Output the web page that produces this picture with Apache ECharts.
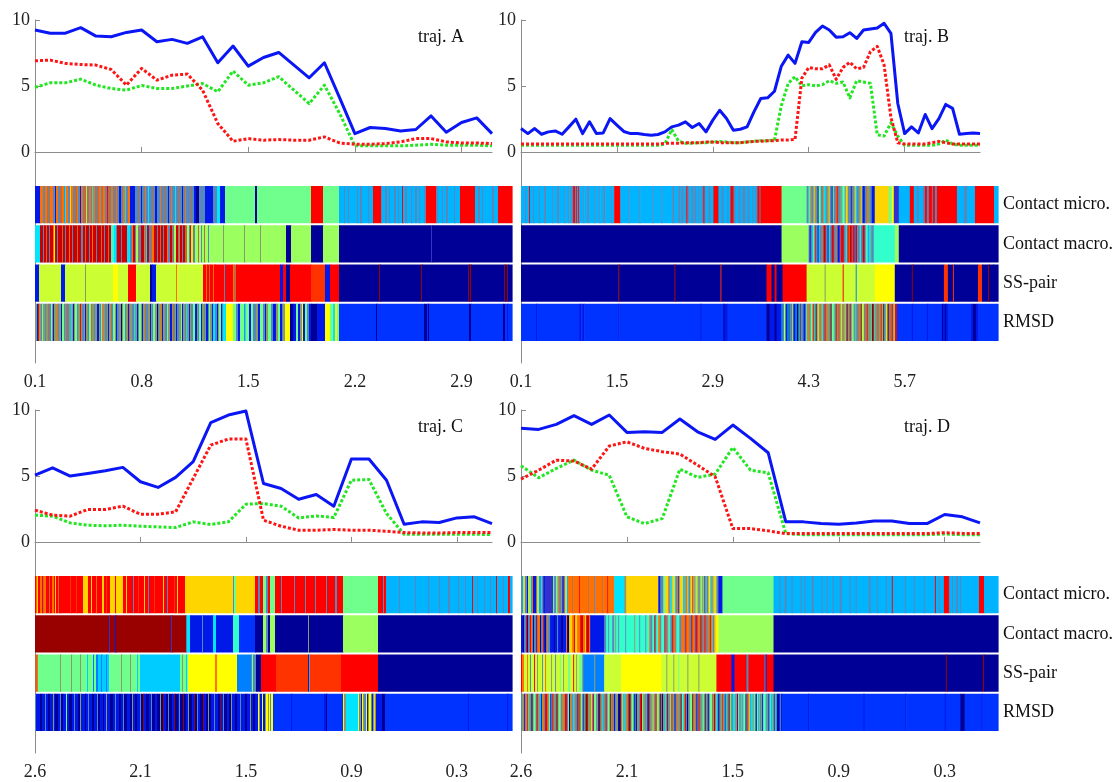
<!DOCTYPE html>
<html>
<head>
<meta charset="utf-8">
<script src="https://cdn.jsdelivr.net/npm/echarts@6/dist/echarts.min.js"></script>
<style>
  html, body { margin: 0; padding: 0; background: #fff; }
  #chart { width: 1117px; height: 782px; }
</style>
</head>
<body>
<div id="chart"></div>
<script>
// ---- state colour table (jet-like state map) ----
const STATE_COLORS = {
  N: '#000096', U: '#0018e8', B: '#0033ff', A: '#0080ff', C: '#00b4ff',
  S: '#5788bb', K: '#00e5ff', c: '#00ccff', Q: '#33ffcc', g: '#70ff8c',
  G: '#9cff60', y: '#ccff33', Y: '#ffff00', O: '#ffd500', o: '#ff7000',
  R: '#ff0000', r: '#ff3300', d: '#cc0000', D: '#990000', t: '#8a9a6a',
  m: '#c06a3a', p: '#3333cc'
};

const ROW_NAMES = ['Contact micro.', 'Contact macro.', 'SS-pair', 'RMSD'];
const SERIES_COLORS = { blue: '#0b16f5', red: '#ff1414', green: '#22e622' };

// ---- tick labels (one every `step` samples) ----
const ticksA = ['0.1', '0.8', '1.5', '2.2', '2.9'];
const ticksB = ['0.1', '1.5', '2.9', '4.3', '5.7'];
const ticksC = ['2.6', '2.1', '1.5', '0.9', '0.3'];
const ticksD = ['2.6', '2.1', '1.5', '0.9', '0.3'];

// ---- traj. A ----
const blueA  = [9.24, 9.0, 9.0, 9.42, 8.78, 8.73, 9.06, 9.24, 8.35, 8.53, 8.23, 8.73, 6.76, 8.03, 6.5, 7.16, 7.54, 6.58, 5.62, 6.76, 4.1, 1.39, 1.85, 1.77, 1.59, 1.7, 2.73, 1.49, 2.23, 2.58, 1.39];
const redA   = [6.91, 6.96, 6.71, 6.63, 6.58, 6.25, 5.06, 6.33, 5.44, 5.82, 5.9, 4.68, 2.15, 0.81, 1.01, 0.89, 0.94, 0.89, 0.89, 1.14, 0.68, 0.58, 0.58, 0.63, 0.76, 1.01, 1.01, 0.76, 0.68, 0.68, 0.63];
const greenA = [4.89, 5.24, 5.24, 5.52, 5.06, 4.81, 4.68, 5.04, 4.81, 4.81, 4.99, 5.19, 4.56, 6.13, 5.06, 5.24, 5.7, 4.68, 3.67, 5.06, 2.91, 0.46, 0.46, 0.46, 0.46, 0.51, 0.58, 0.51, 0.51, 0.51, 0.46];

// ---- traj. B ----
const blueB  = [1.77, 1.39, 1.77, 1.34, 1.52, 1.59, 1.34, 1.9, 2.48, 1.39, 2.28, 1.39, 1.44, 2.53, 2.03, 1.55, 1.39, 1.39, 1.32, 1.27,
                1.32, 1.52, 1.9, 2.03, 2.28, 1.85, 2.15, 1.52, 2.41, 3.16, 2.53, 1.65, 1.72, 1.9, 3.04, 4.05, 4.1, 4.6, 6.5, 7.34,
                6.71, 8.35, 8.3, 9.06, 9.54, 9.24, 8.7, 8.73, 9.04, 8.6, 9.24, 9.32, 9.4, 9.75, 8.99, 3.67, 1.39, 1.9, 1.44, 2.84,
                1.77, 2.53, 3.6, 3.3, 1.34, 1.39, 1.44, 1.39];
const redB   = [0.6, 0.6, 0.6, 0.6, 0.6, 0.6, 0.6, 0.6, 0.6, 0.6, 0.6, 0.6, 0.6, 0.6, 0.6, 0.6, 0.6, 0.6, 0.6, 0.6,
                0.6, 0.65, 0.65, 0.65, 0.7, 0.7, 0.7, 0.75, 0.75, 0.7, 0.7, 0.7, 0.7, 0.75, 0.8, 0.8, 0.85, 0.85, 0.9, 0.9,
                0.94, 5.6, 6.4, 6.3, 6.3, 6.6, 5.5, 6.4, 6.8, 6.3, 6.4, 7.6, 8.0, 6.6, 2.6, 0.7, 0.6, 0.6, 0.6, 0.6,
                0.7, 0.8, 0.7, 0.6, 0.6, 0.6, 0.6, 0.6];
const greenB = [0.5, 0.5, 0.5, 0.5, 0.5, 0.5, 0.5, 0.5, 0.5, 0.5, 0.5, 0.5, 0.5, 0.5, 0.5, 0.5, 0.5, 0.5, 0.5, 0.5,
                0.5, 0.6, 1.7, 0.8, 0.65, 0.65, 0.7, 0.7, 0.75, 0.8, 0.75, 0.7, 0.7, 0.75, 0.8, 0.85, 0.85, 0.9, 3.5, 5.2,
                5.7, 5.0, 5.1, 5.0, 5.1, 5.4, 5.2, 5.3, 4.1, 5.4, 5.3, 5.2, 1.3, 1.2, 2.2, 1.2, 0.5, 0.5, 0.5, 0.5,
                0.5, 0.6, 0.9, 0.6, 0.5, 0.5, 0.5, 0.5];

// ---- traj. C ----
const blueC  = [5.06, 5.62, 4.99, 5.19, 5.39, 5.65, 4.56, 4.13, 4.89, 6.08, 9.04, 9.62, 9.92, 4.43, 4.05, 3.24, 3.59, 2.71, 6.28, 6.28, 4.68, 1.34, 1.52, 1.47, 1.82, 1.9, 1.39];
const redC   = [2.41, 2.03, 1.95, 2.46, 2.46, 2.71, 2.1, 2.1, 2.28, 4.81, 7.34, 7.8, 7.8, 1.65, 1.19, 0.89, 0.89, 0.94, 0.89, 0.89, 0.81, 0.71, 0.68, 0.68, 0.71, 0.71, 0.71];
const greenC = [2.03, 1.95, 1.44, 1.27, 1.22, 1.27, 1.19, 1.14, 1.09, 1.52, 1.32, 1.52, 2.86, 2.91, 2.71, 1.82, 1.97, 1.85, 4.68, 4.73, 2.15, 0.58, 0.58, 0.58, 0.58, 0.58, 0.56];

// ---- traj. D ----
const blueD  = [8.61, 8.53, 8.91, 9.57, 8.91, 9.62, 8.3, 8.35, 8.3, 9.32, 8.35, 7.77, 8.86, 7.85, 6.76, 1.52, 1.52, 1.39, 1.34, 1.44, 1.59, 1.59, 1.39, 1.39, 2.08, 1.9, 1.44];
const redD   = [4.76, 5.44, 6.2, 6.13, 5.52, 7.27, 7.59, 7.09, 6.84, 6.66, 5.82, 4.94, 1.01, 1.01, 0.84, 0.63, 0.63, 0.63, 0.63, 0.63, 0.63, 0.63, 0.63, 0.63, 0.7, 0.65, 0.63];
const greenD = [5.77, 4.86, 5.57, 6.2, 5.44, 5.06, 1.9, 1.39, 1.77, 5.52, 4.89, 5.14, 7.16, 5.44, 5.24, 0.63, 0.55, 0.55, 0.55, 0.55, 0.55, 0.55, 0.55, 0.55, 0.6, 0.55, 0.55];

// ---- state strips: run-length tokens "<state><length>" per row ----
const stripA = [
  "U5 o3 S2 o2 m2 S1 o3 S2 U1 o2 S2 m2 o2 S1 K1 o2 S2 O1 o2 S2 m2 o1 S2 U1 o2 S1 m2 O1 S2 o2 S1 K1 o2 S2 m2 o2 S1 m1 o2 S2 R1 m2 S1 o2 S2 m1 o1 S2 U2 S2 o2 K1 S2 o2 U5 S3 m1 S2 U1 S3 o1 S2 K1 S3 m1 S2 U2 S3 o1 S2 S1 m1 S3 U1 S2 o1 S3 K1 S2 m1 S3 U1 S2 o1 S2 S3 m1 S2 U2 N3 S6 U8 S4 K3 U5 g30 N2 g54 R12 g16 C5 S1 C3 S1 C8 S1 C2 S2 C6 S1 C4 R8 S1 C3 S2 C2 S1 C4 S2 C2 S1 C3 R1 C2 S2 C4 S1 C3 S2 C2 S1 C4 S2 R10 S2 C4 S1 C3 S2 C6 S1 C5 R15 C3 S2 C2 S1 C9 S2 C4 R14",
  "K5 d3 S1 d2 m1 d2 S1 d3 o1 Y1 d2 S1 d4 m1 d2 S1 d3 o1 d2 S1 d4 m1 d3 S2 d2 m1 d3 S1 d2 o1 d3 S1 d4 m1 d2 S1 d3 m1 d2 Q3 K2 S1 d4 S1 d5 K3 S2 o1 d2 S1 G2 m1 S2 d3 o1 S1 K1 d2 S2 m1 o2 d3 S1 d2 m1 d2 S1 d3 o1 S2 d2 m1 S1 G2 d2 S1 o1 d2 S1 d2 m2 G2 S1 R1 G2 m1 S1 G3 m1 G2 S1 G2 m1 G3 S1 G4 G10 t1 G20 t1 G15 t1 G25 N5 G20 N12 G16 N92 p1 N80",
  "U4 y22 U4 y20 t1 y27 Y5 y10 R8 y14 N2 U4 y20 o1 y26 R3 o1 R2 m1 R3 o1 R1 R9 S1 R8 o1 m2 R44 U3 R3 N4 R21 r14 U5 R9 N40 D1 N41 D1 N46 D1 N1 D1 N33 D1 N2 D1 N4",
  "t2 U1 R1 t2 S1 g1 t2 S1 t2 m1 S2 g1 t1 U1 t1 t2 o1 S1 t2 U1 g2 S1 t1 m1 S2 t2 K1 t1 U1 t1 g2 S1 t2 R1 t1 S2 t1 U1 t2 S1 g2 m1 t2 S1 t2 U2 t1 S1 g1 o1 t2 S2 t1 U1 t2 m1 S1 g2 t1 U1 S2 t2 N1 t1 g2 S1 t2 U1 m1 t2 S2 K1 t2 U1 S1 g2 t1 U1 t2 m1 S2 t2 U1 t1 S1 g2 t2 N1 S1 t2 o1 U1 t2 S2 g1 t2 U2 t1 m1 S1 t1 U1 S2 t2 g1 U1 t2 S1 K1 t2 U1 t1 S2 g2 U2 t1 S1 g2 U1 t2 S1 t1 U2 S1 g1 t2 U1 K2 S2 U1 t1 g2 U1 S1 K2 K1 Y7 g3 S2 U2 g4 S1 K1 g3 U2 g2 S3 t2 U2 g3 S2 U1 t2 g3 S2 U3 t2 g2 U2 S1 t2 Y5 N3 U3 g2 U2 t2 Y1 U2 g2 S2 U2 N6 U8 Y5 g3 K2 Y2 g2 B37 N1 B47 N3 B1 N1 B40 N2 B32 N2 B2 U1 B4"
];
const stripB = [
  "C4 S1 C3 R1 C3 S1 C5 S1 C4 S2 C6 S1 C4 S2 C5 S1 C3 S1 C2 S2 R2 S1 R1 C1 R1 C4 S1 C3 S2 C5 S1 C4 S1 C3 S2 C6 S1 C2 R6 C8 S1 C10 S1 C12 S1 C8 S1 C10 S2 C4 S2 C1 S2 C2 S1 R1 S2 C2 S2 C1 S2 C2 S1 C2 S2 R1 S1 C3 S2 C3 R5 C3 S2 C4 S1 C2 R3 S2 C3 S2 C2 S3 C2 S2 C3 S1 C2 S2 R2 S1 R1 R20 g25 S2 g1 K1 o1 S2 O1 t2 S1 U1 g2 S2 o1 K2 S1 t2 O1 S2 U1 g1 S2 o1 R1 S2 t2 K1 g2 S1 O2 S2 t1 U1 S2 o1 g1 K1 S2 t2 O1 S1 U2 S2 o1 t2 S2 U3 O14 g3 Y2 p5 C11 R4 C3 S2 C4 S2 R2 S2 R3 S1 R2 S2 R2 R18 C7 S3 C8 R19 C4",
  "N260 G25 G2 S1 U1 S2 Q2 R1 S2 U1 K1 S2 o1 S1 d2 S2 U1 Q1 S2 R1 d1 S2 o1 S1 U2 S1 R2 d1 S2 Q1 S1 R1 o1 d2 S1 R2 S1 U1 o1 S2 Q1 S2 d1 R1 S1 Q2 S1 K2 t1 S2 Q1 Q20 G4 N99",
  "N97 D1 N55 D1 N45 r1 N45 R5 N3 R2 N6 R24 y18 t1 y17 R1 y12 A1 y18 Y20 N17 D1 N31 r4 N5 r1 N24 r4 N6 D1 N4 N5",
  "B15 U1 B42 U2 B1 U2 B34 U1 B81 U1 B22 N1 U3 B39 N3 U5 N2 U5 K1 U1 Y1 g1 U2 K1 N1 g1 U1 Y1 S1 U2 K1 N2 g1 U1 t1 S2 U2 g1 t2 o1 S1 g2 R1 t1 K1 D1 S1 Y1 t2 m1 g1 S2 R1 t1 o1 t2 S1 D1 g2 K1 t1 R1 t1 m2 S1 Y1 t2 o1 g1 S1 D1 t2 R1 S1 g2 m1 K1 t1 S2 o1 t1 D1 g1 Y1 S1 m1 t1 R1 t2 S1 g1 D2 K1 t1 o1 S1 m1 t2 R1 g1 D1 S2 Y1 t1 D1 S1 m2 R1 t1 g1 R2 B15 U1 B14 U1 B14 N1 U2 N1 U2 B23 U2 N3 U2 B20"
];
const stripC = [
  "R1 o1 O1 R2 o2 R1 m1 o2 R3 m1 R2 o2 R1 O1 R2 m1 R1 R10 r1 R5 r1 R6 O5 R3 O1 R4 o1 R5 O2 R2 r1 R3 O5 R1 O7 R3 O1 R6 S1 R4 r1 R5 O1 R3 S1 R5 r1 R8 O1 R3 S1 R6 r1 R2 O1 R3 R4 O1 O47 S1 g2 O19 R3 S2 R3 g3 S2 R2 g5 R6 S1 R12 S1 R10 S1 R9 S1 R10 S1 R8 S2 R6 g35 R5 S1 R2 C13 S1 C15 S1 C12 S1 C10 S1 C8 S2 C8 S1 C6 S1 C6 R1 C4 S1 C6 S1 C5 S1 C5 R1 C6 S1 C4 R2 C2",
  "D74 p1 D5 U1 D55 p1 D14 S1 K3 U12 S1 U10 K3 U17 Q6 B16 N8 G3 S2 N2 G5 N33 t1 N34 G35 N134",
  "m2 o1 g2 g20 t1 g10 t1 g8 t1 g6 c1 g5 A1 g2 A2 c3 A1 c4 A1 c2 g2 g10 t1 g8 t1 g6 c1 g2 c40 g2 t1 g3 c1 g1 Y27 o2 Y20 A14 S1 g1 S3 N5 R15 r32 U1 t1 r31 R37 N134",
  "S1 U4 N2 U3 S1 U2 N2 U3 t1 U1 N3 U2 S1 N2 U3 g1 U2 N3 U2 S1 U3 N2 t1 U4 N1 U2 S1 U3 N2 U1 U2 S1 N2 U3 N1 U2 t1 U3 N3 U2 S1 U3 N2 U2 S1 N3 U3 N2 t1 U2 N2 U3 S1 N2 D1 U2 N3 U2 S1 N3 U2 N3 t1 N2 D1 U2 N2 S1 N3 U2 D1 N3 U1 S1 N3 D1 N2 U2 t1 N3 U2 D1 N2 S1 U2 N3 D1 U2 N2 t1 N2 U3 S1 U3 N2 D1 U2 S1 N3 U2 N2 t1 U3 N2 U3 S1 U4 N2 U3 t1 U2 N2 U3 Y1 t1 U2 Y1 U2 t1 Y2 t1 Y1 S1 Y2 B18 U1 B32 U2 N1 B16 Y1 t2 K12 Y1 S1 t1 U1 Y1 t1 S2 Y1 U1 t1 Y2 S1 U1 t1 O1 t1 U2 U4 N3 B83 U1 B38 U1 B4"
];
const stripD = [
  "S2 g1 O1 S2 U1 O1 g2 S1 o1 U3 S1 O1 g1 S2 K1 S1 p1 U1 p8 g1 S2 O1 K1 o1 S2 t1 p2 S1 O1 g1 S1 o4 m1 o6 R1 o8 m1 o5 S1 o7 m1 o4 R1 o6 K10 t2 O3 O29 U2 S3 g2 O3 S1 o1 K2 O2 g1 S2 o1 U1 O3 g1 S1 K1 o2 g1 S2 O2 R1 g1 S1 O2 K1 S1 o1 g2 S1 O1 U1 g1 S2 O1 Y1 S1 K1 o1 g1 O2 S2 U4 g51 C6 S1 C4 S2 C5 S1 C8 S1 C3 S1 C6 S2 C8 S1 C4 S1 C5 S1 C6 S2 C8 S1 C5 S1 C12 S2 C6 S1 C8 S1 C5 R1 C12 S1 C8 S1 C9 S1 C6 C4 R1 C3 S1 C4 R5 S1 C2 S1 C3 S2 C2 S1 C12 C6 R5 C14",
  "U2 N1 S2 R1 N1 S2 R1 o1 S1 N1 S2 d1 S1 o2 N1 S2 R1 U1 N1 S1 o1 S2 U1 U3 N1 U2 S1 U3 N2 U3 o1 N2 O3 o2 d1 O2 o3 R1 d2 o2 O1 d3 o1 U14 S2 Q2 S1 Q3 S2 Q1 t1 Q2 S1 Q6 S1 Q8 t1 Q4 S1 Q5 S1 Q3 o1 S2 Q2 d1 S1 Q2 o2 S1 Q3 R1 S2 o1 Q2 S2 d1 o2 S1 Q3 S2 o1 o2 S1 R1 o3 S2 d1 o2 S1 R2 S1 o2 d1 S2 o1 R1 S2 o2 S1 d1 O1 S2 O2 Y2 G55 N224",
  "R1 o2 y3 o1 y2 S1 y3 R1 y2 t1 y4 S1 y2 o1 y5 t1 y3 S1 y4 g1 y2 t1 y4 g2 y3 R1 y2 t1 y2 g3 t1 A11 t1 A9 y17 Y40 y5 t1 y6 t1 y4 g1 y8 t1 y10 t1 y17 R15 U3 R12 S2 R16 S1 U1 R7 N172 D1 N36 D1 N14",
  "S1 t2 U1 o1 t1 R1 g1 S1 t1 N1 t1 g2 S1 R1 t2 K1 U1 t1 o1 S1 R2 m1 t1 g1 U1 S1 R1 t2 S1 D1 t1 g2 S1 o1 t2 R2 S1 g1 N1 t1 o1 S1 K1 t1 S2 D1 t1 R1 g2 U1 t1 S1 D2 t2 o1 g1 S1 R1 g2 S1 t1 N1 D1 t2 K1 S1 t1 R1 S1 g2 D1 t1 S1 o1 U1 S1 t2 N2 D1 t1 g1 S1 K1 t1 o1 S1 D2 t1 g2 U1 S1 N1 t2 S1 R1 D1 g1 t2 S1 t1 U1 D1 S1 t2 g1 o1 S1 R1 g2 t1 D1 S1 N1 t2 K1 S1 D1 t1 S1 g1 R1 t2 U1 S1 o1 t2 S1 D1 g1 K1 t1 R1 S1 N1 S1 t1 g2 D1 t1 o1 S1 U1 t1 R1 S1 t2 g1 K1 D1 t1 S1 U1 t1 g2 S1 o1 D1 t1 K1 S1 N1 S1 t2 R1 g1 U1 K1 t1 S1 D1 g1 t1 S1 K2 t1 o1 U1 g1 S1 t1 K1 S1 g2 U1 t1 R1 Y1 S1 K2 t1 g1 S1 U1 g1 t1 K1 S1 t1 U1 g2 K1 S1 t1 U1 g1 K1 S1 g1 U1 t1 K1 N2 U1 S1 U1 B25 U1 B52 U1 B39 U1 B37 U1 B14 N4 B16 U1 B15"
];

// ---- build ----
const FONT = "'Liberation Serif', 'DejaVu Serif', serif";
const AXIS_GRAY = '#8c8c8c';

// Expand run-length rows into [start, end, row] items (fraction of the strip width).
function stripItems(rows) {
  const out = [];
  rows.forEach((s, row) => {
    const runs = s.trim().split(/\s+/).map(tk => [tk[0], parseFloat(tk.slice(1))]);
    const total = runs.reduce((acc, r) => acc + r[1], 0);
    let acc = 0;
    runs.forEach(([code, len]) => {
      out.push({ value: [acc / total, (acc + len) / total, row], itemStyle: { color: STATE_COLORS[code] } });
      acc += len;
    });
  });
  return out;
}

function renderStrip(params, api) {
  const a = api.coord([api.value(0), api.value(2)]);
  const b = api.coord([api.value(1), api.value(2)]);
  const h = api.size([0, 1])[1];
  return {
    type: 'rect',
    shape: { x: a[0], y: a[1] - h / 2 + 1, width: Math.max(b[0] - a[0] + 0.6, 0.8), height: h - 2 },
    style: { fill: api.visual('color') }
  };
}

const panels = [
  { left: 35,  top: 20,  lineW: 457, blue: blueA, red: redA, green: greenA, ticks: ticksA, step: 7,  strips: stripA, title: 'traj. A', labels: false },
  { left: 521, top: 20,  lineW: 459, blue: blueB, red: redB, green: greenB, ticks: ticksB, step: 14, strips: stripB, title: 'traj. B', labels: true },
  { left: 35,  top: 410, lineW: 457, blue: blueC, red: redC, green: greenC, ticks: ticksC, step: 6,  strips: stripC, title: 'traj. C', labels: false },
  { left: 521, top: 410, lineW: 459, blue: blueD, red: redD, green: greenD, ticks: ticksD, step: 6,  strips: stripD, title: 'traj. D', labels: true }
];

const option = {
  animation: false,
  backgroundColor: '#fff',
  title: [], grid: [], xAxis: [], yAxis: [], series: []
};

panels.forEach((p, i) => {
  const gLine = i * 2, gStrip = i * 2 + 1;
  const n = p.blue.length;

  option.title.push({
    text: p.title, left: p.left + 378, top: p.top + 3,
    textStyle: { fontFamily: FONT, fontSize: 18, fontWeight: 'normal', color: '#111' }
  });

  option.grid.push({ left: p.left, top: p.top, width: p.lineW, height: 343 });
  option.grid.push({ left: p.left, top: p.top + 165, width: 477, height: 157 });

  option.xAxis.push({
    gridIndex: gLine, type: 'value', min: 0, max: n - 1,
    axisLine: { show: true, lineStyle: { color: AXIS_GRAY, width: 1 } },
    axisTick: { show: true, inside: true, length: 5, lineStyle: { color: AXIS_GRAY },
                customValues: p.ticks.map((_, k) => k * p.step) },
    axisLabel: { customValues: p.ticks.map((_, k) => k * p.step),
                 formatter: v => p.ticks[Math.round(v / p.step)],
                 fontFamily: FONT, fontSize: 18, color: '#222', margin: 10 },
    splitLine: { show: false }
  });
  option.xAxis.push({ gridIndex: gStrip, type: 'value', min: 0, max: 1, show: false });

  option.yAxis.push({
    gridIndex: gLine, type: 'value', min: -16, max: 10,
    axisLine: { show: true, lineStyle: { color: AXIS_GRAY, width: 1 } },
    axisTick: { show: true, inside: true, length: 5, lineStyle: { color: AXIS_GRAY }, customValues: [0, 5, 10] },
    axisLabel: { customValues: [0, 5, 10], fontFamily: FONT, fontSize: 18, color: '#222', margin: 5 },
    splitLine: { show: false }
  });
  option.yAxis.push({
    gridIndex: gStrip, type: 'category', data: ROW_NAMES, inverse: true, position: 'right',
    show: p.labels,
    axisLine: { show: false }, axisTick: { show: false }, splitLine: { show: false },
    axisLabel: { fontFamily: FONT, fontSize: 18, color: '#111', margin: 5 }
  });

  const xs = p.blue.map((_, k) => k);
  const lineSeries = (name, vals, color, dashed) => ({
    name, type: 'line', xAxisIndex: gLine, yAxisIndex: gLine,
    data: vals.map((v, k) => [xs[k], v]),
    showSymbol: false, symbol: 'none', clip: false,
    lineStyle: { color, width: 3, type: dashed ? [3, 2] : 'solid', cap: 'butt', join: 'round' },
    z: dashed ? 3 : 4
  });
  option.series.push(lineSeries('green', p.green, SERIES_COLORS.green, true));
  option.series.push(lineSeries('red', p.red, SERIES_COLORS.red, true));
  option.series.push(lineSeries('blue', p.blue, SERIES_COLORS.blue, false));

  option.series.push({
    type: 'custom', xAxisIndex: gStrip, yAxisIndex: gStrip,
    renderItem: renderStrip, encode: { x: [0, 1], y: 2 },
    data: stripItems(p.strips), z: 2
  });
});

const chart = echarts.init(document.getElementById('chart'), null, { renderer: 'canvas' });
chart.setOption(option);
</script>
</body>
</html>
